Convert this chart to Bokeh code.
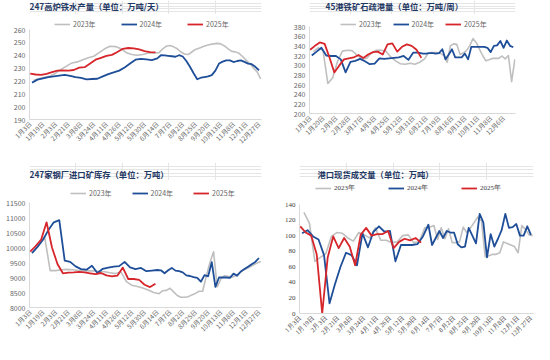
import numpy as np
import pandas as pd
from bokeh.plotting import figure
from bokeh.models import Range1d, FixedTicker, Legend, LegendItem, Label, NumeralTickFormatter
from bokeh.layouts import row, column
from bokeh.embed import file_html
from bokeh.resources import INLINE

# ---------------- data ----------------
# weekly (Friday) observation dates of each year
dates_2023 = pd.date_range("2023-01-06", periods=52, freq="7D")
dates_2024 = pd.date_range("2024-01-05", periods=52, freq="7D")
dates_2025 = pd.date_range("2025-01-03", periods=24, freq="7D")
series_names = ["2023年", "2024年", "2025年"]

# 247 blast furnace hot metal output (10k t/day)
hot_metal_2023 = [220.5, 221.8, 222.8, 223.8, 226, 229, 231.5, 234, 234.8, 236.5,
                  238, 239.2, 242, 245, 247, 246.7, 245, 242, 240.5, 240,
                  240.5, 241.8, 241.8, 242, 245, 247, 247.5, 246.5, 245, 242.5,
                  241, 240.5, 242.5, 244.5, 245.5, 246.5, 247.5, 248.3, 248.8, 249.2,
                  248.8, 247.2, 245, 243, 242.6, 241.5, 239, 236, 233.5, 230,
                  227, 221.5]
hot_metal_2024 = [218.7, 221, 222, 223, 223.6, 224.2, 224.7, 224, 223, 222.3,
                  221.2, 221.5, 221.7, 223.5, 225.3, 226.6, 228, 230.5, 233.5, 236.5,
                  237.2, 236.8, 236.2, 237.5, 240, 239.8, 239.5, 239.2, 238.8, 240,
                  239, 235.5, 231, 226, 221.3, 222.5, 223, 223.5, 224.5, 228,
                  233.5, 235, 236, 236, 234.7, 235.5, 236, 234.8, 233.5, 233,
                  231, 228.3]
hot_metal_2025 = [225.6, 225, 224.7, 225.5, 226.8, 228, 228.2, 228, 228.5, 230.4,
                  230.7, 233.5, 236.5, 238, 239.5, 240.3, 242.5, 245, 245.6, 245.3,
                  244.5, 243.2, 242.4, 242.2]
hot_metal_ticks = [190, 200, 210, 220, 230, 240, 250, 260]

# 45 ports iron ore clearance (10k t/week)
port_2023 = [328, 336, 330, 262, 274, 308, 329, 331, 330, 321,
             313, 314, 325, 331, 331, 329, 317, 309, 303, 302,
             304, 302, 306, 313, 324, 326, 326, 326, 324, 320,
             306, 340, 344, 343, 322, 325, 330, 340, 355, 347,
             333, 320, 309, 311, 314, 314, 314, 319, 313, 320,
             266, 312]
port_2024 = [320, 328, 336, 320, 319, 319, 312, 285, 307, 309,
             313, 308, 302, 303, 314, 313, 314, 315, 316, 319,
             311, 326, 326, 324, 324, 325, 325, 324, 325, 333,
             312, 322, 333, 316, 316, 316, 324, 312, 338, 338,
             338, 338, 338, 336, 327, 340, 341, 350, 336, 351,
             340, 337]
port_2025 = [332, 340, 347, 344, 316, 285, 299, 312, 314, 316,
             321, 315, 322, 327, 328, 322, 343, 345, 328, 338,
             343, 340, 332, 315]
port_ticks = [200, 220, 240, 260, 280, 300, 320, 340, 360, 380]

# 247 steel mills imported ore inventory (10k t)
inv_2023 = [9900, 10100, 10330, 9230, 9230, 9260, 9270, 9260, 9240, 9230,
            9220, 9220, 9200, 9190, 9160, 9130, 9180, 8860, 8740, 8700,
            8650, 8580, 8500, 8460, 8560, 8570, 8640, 8520, 8400, 8340,
            8340, 8360, 8420, 8470, 8540, 8540, 9050, 9500, 9860, 8690,
            8950, 9060, 9040, 9010, 9050, 9140, 9230, 9290, 9350, 9420,
            9480, 9530]
inv_2024 = [9810, 10020, 10260, 10580, 10840, 10910, 9560, 9520, 9370, 9280,
            9260, 9390, 9150, 9290, 9330, 9360, 9380, 9520, 9340, 9280,
            9320, 9210, 9230, 9250, 9240, 9140, 9240, 9320, 9230, 9210,
            9170, 9070, 9050, 9010, 8990, 8860, 9080, 9040, 9510, 8690,
            9000, 9000, 9000, 8990, 9130, 9060, 9200, 9280, 9360, 9440,
            9520, 9650]
inv_2025 = [9860, 10050, 10260, 10840, 10000, 9450, 9140, 9160, 9170, 9190,
            9170, 9140, 9110, 9150, 9070, 9040, 9060, 9330, 8950, 8950,
            8920, 8760, 8680, 8790]
inv_ticks = [8000, 8500, 9000, 9500, 10000, 10500, 11000, 11500]

# port spot trade volume (10k t)
trade_2023 = [130, 116, 67, 72, 77, 99, 104, 103, 97, 93,
              104, 101, 97, 110, 94, 94, 91, 92, 100, 101,
              91, 92, 110, 111, 113, 95, 110, 96, 109, 91,
              91, 92, 111, 104, 110, 117, 124, 119, 73, 74,
              76, 76, 78, 92, 90, 88, 86, 78, 113, 108,
              101, 100]
trade_2024 = [103, 107, 99, 95, 75, 13, 38, 60, 78, 75,
              62, 103, 85, 105, 112, 105, 106, 67, 88, 88,
              88, 89, 99, 114, 88, 97, 106, 97, 106, 104,
              104, 89, 85, 86, 110, 100, 90, 128, 117, 72,
              102, 86, 96, 107, 128, 110, 111, 115, 100, 100,
              112, 101]
trade_2025 = [112, 104, 100, 76, 0, 72, 99, 84, 97, 86,
              62, 101, 110, 100, 102, 102, 106, 84, 92, 96,
              94, 97, 91]
trade_ticks = [0, 20, 40, 60, 80, 100, 120, 140]

titles = ["247高炉铁水产量（单位：万吨/天）", "45港铁矿石疏港量（单位：万吨/周）",
          "247家钢厂进口矿库存（单位：万吨）", "港口现货成交量（单位：万吨）"]

# -------------- category axis (union of month-day of all dates) --------------
keys = sorted({(d.month, d.day) for d in [*dates_2023, *dates_2024, *dates_2025]})
cat_index = {k: i for i, k in enumerate(keys)}
cat_labels = [f"{m}月{d}日" for m, d in keys]
n_cat = len(keys)


def xs(dates, n):
    return [cat_index[(d.month, d.day)] for d in dates[:n]]


COLORS = ["#BFBFBF", "#1F4E99", "#D7262B"]
WIDTHS = [1.6, 1.8, 1.8]
TITLE_COLOR = "#1F3864"
SANS = "Noto Sans CJK SC"
SERIF = "Liberation Serif"


def header(w, hh, title, tx, ty):
    h = figure(width=w, height=hh, output_backend="svg", toolbar_location=None, tools="",
               title=None, x_axis_location=None, y_axis_location=None,
               x_range=Range1d(0, 1), y_range=Range1d(0, 1),
               min_border_left=0, min_border_right=0, min_border_top=0, min_border_bottom=0)
    h.outline_line_color = None
    h.background_fill_color = "white"
    h.border_fill_color = "white"
    h.add_layout(Label(x=tx, y=ty, x_units="screen", y_units="screen",
                       text=title, text_font=SANS, text_font_style="bold",
                       text_font_size="8.3px", text_color=TITLE_COLOR,
                       text_align="left", text_baseline="middle"))
    return h


def make_panel(w, h, borders, gap_top, ticks, data, label_every,
               legend_xy, legend_spacing, font, tick_color, tick_size, xlab_size):
    # gap_top: pixels between the frame top and the top tick (room for the legend)
    left, right, bottom = borders
    frame_h = h - bottom
    units_per_px = (ticks[-1] - ticks[0]) / (frame_h - gap_top)
    p = figure(width=w, height=h, output_backend="svg", toolbar_location=None, tools="",
               title=None, x_range=Range1d(-0.4, n_cat - 0.6),
               y_range=Range1d(ticks[0], ticks[-1] + gap_top * units_per_px),
               min_border_left=left, min_border_right=right,
               min_border_top=0, min_border_bottom=bottom)
    p.outline_line_color = None
    p.xgrid.visible = False
    p.ygrid.visible = False
    p.background_fill_color = "white"
    p.border_fill_color = "white"

    items = []
    for name, (dates, vals), col, lw in zip(series_names, data, COLORS, WIDTHS):
        r = p.line(xs(dates, len(vals)), vals, line_color=col, line_width=lw,
                   line_join="round")
        items.append(LegendItem(label=name, renderers=[r]))

    xa = p.xaxis[0]
    tick_pos = list(range(0, n_cat, label_every))
    xa.ticker = FixedTicker(ticks=tick_pos)
    xa.major_label_overrides = {i: cat_labels[i] for i in tick_pos}
    xa.major_label_orientation = np.pi / 4
    ya = p.yaxis[0]
    ya.ticker = FixedTicker(ticks=ticks)
    ya.formatter = NumeralTickFormatter(format="0")
    ya.bounds = (ticks[0], ticks[-1])
    for ax in (xa, ya):
        ax.major_tick_line_color = None
        ax.minor_tick_line_color = None
        ax.major_tick_in = 0
        ax.major_tick_out = 0
        ax.minor_tick_in = 0
        ax.minor_tick_out = 0
        ax.axis_line_color = "#D9D9D9"
        ax.major_label_text_font = font
        ax.major_label_text_color = tick_color
    xa.major_label_text_font_size = xlab_size
    ya.major_label_text_font_size = tick_size
    xa.major_label_standoff = 3
    ya.major_label_standoff = 4

    leg = Legend(items=items, location=legend_xy, orientation="horizontal",
                 glyph_width=16, glyph_height=8, label_width=22, label_height=8,
                 label_standoff=3, spacing=legend_spacing, padding=0, margin=0,
                 border_line_color=None, background_fill_alpha=0,
                 label_text_font_size="7px", label_text_color=tick_color,
                 label_text_font=font)
    p.add_layout(leg)
    return p


# top row: header 14 px, plot 148 px ; bottom row: header 18 px, plot 164 px
h1 = header(267, 14, titles[0], 0, 9.0)
p1 = make_panel(267, 148, (29, 6, 43), 15, hot_metal_ticks,
                [(dates_2023, hot_metal_2023), (dates_2024, hot_metal_2024), (dates_2025, hot_metal_2025)],
                7, (25, 90), 25, SANS, "#666666", "7px", "6.5px")
h2 = header(267, 14, titles[1], 16, 9.0)
p2 = make_panel(267, 148, (42, 19, 49), 12, port_ticks,
                [(dates_2023, port_2023), (dates_2024, port_2024), (dates_2025, port_2025)],
                8, (31, 84), 11, SANS, "#666666", "7px", "6.5px")
h3 = header(267, 18, titles[2], 0, 6.3)
p3 = make_panel(267, 164, (29, 6, 37), 22, inv_ticks,
                [(dates_2023, inv_2023), (dates_2024, inv_2024), (dates_2025, inv_2025)],
                7, (41, 109), 20, SANS, "#666666", "7px", "6.5px")
h4 = header(267, 18, titles[3], 18, 6.3)
p4 = make_panel(267, 164, (32, 1, 31), 24, trade_ticks,
                [(dates_2023, trade_2023), (dates_2024, trade_2024), (dates_2025, trade_2025)],
                7, (16, 120), 32, SERIF, "#404040", "7px", "6.5px")

layout = column(row(column(h1, p1), column(h2, p2)),
                row(column(h3, p3), column(h4, p4)))

open("out.html", "w").write(file_html(layout, INLINE))
